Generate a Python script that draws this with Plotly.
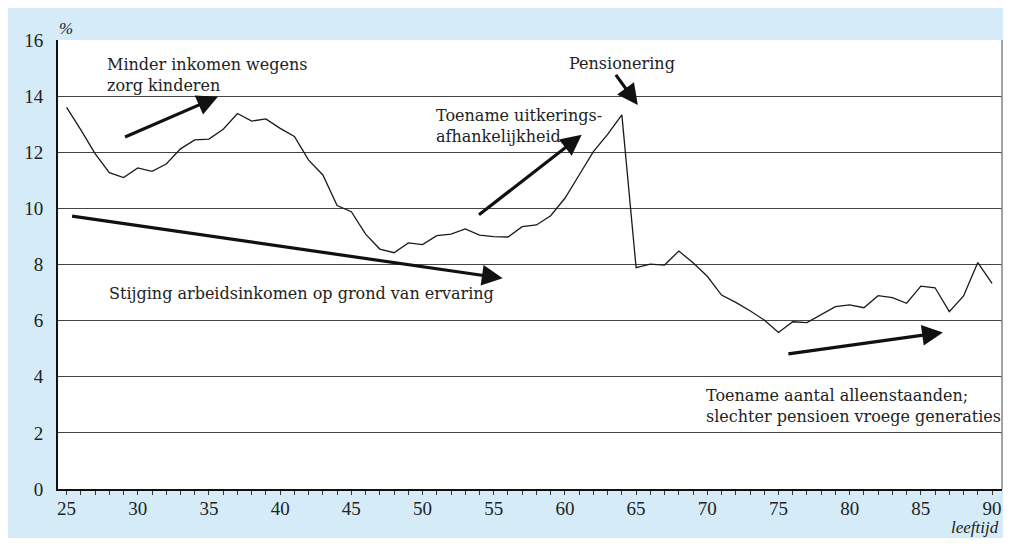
import plotly.graph_objects as go

# ---- data ----
ages = list(range(25, 91))
share = [13.60, 12.80, 11.95, 11.27, 11.10, 11.44, 11.32, 11.58, 12.12, 12.44,
         12.47, 12.82, 13.38, 13.11, 13.19, 12.85, 12.56, 11.72, 11.19, 10.10,
         9.88, 9.08, 8.55, 8.42, 8.77, 8.71, 9.03, 9.08, 9.27, 9.05,
         8.99, 8.98, 9.35, 9.41, 9.74, 10.36, 11.19, 12.02, 12.64, 13.33,
         7.89, 8.01, 7.98, 8.48, 8.06, 7.58, 6.91, 6.65, 6.35, 6.02,
         5.58, 5.96, 5.93, 6.20, 6.50, 6.56, 6.46, 6.89, 6.82, 6.62,
         7.23, 7.17, 6.32, 6.88, 8.07, 7.33]
x_ticks = list(range(25, 91, 5))
y_ticks = list(range(0, 17, 2))

notes = [
    "Minder inkomen wegens<br>zorg kinderen",
    "Stijging arbeidsinkomen op grond van ervaring",
    "Toename uitkerings-<br>afhankelijkheid",
    "Pensionering",
    "Toename aantal alleenstaanden;<br>slechter pensioen vroege generaties",
]

BLUE = "#D5ECF8"
FONT = "Liberation Serif"
NFONT = "DejaVu Serif"

fig = go.Figure()
fig.add_trace(go.Scatter(x=ages, y=share, mode="lines",
                         line=dict(color="#1a1a1a", width=1.3),
                         hoverinfo="skip", showlegend=False))

W, H = 995, 530
OFF = 8  # page body margin
L, R, T, B = 50, 1, 32, 49
pw, ph = W - L - R, H - T - B

def px(p):  # page pixel -> paper x
    return (p - OFF - L) / pw

def py(p):  # page pixel -> paper y
    return (H - B - (p - OFF)) / ph

# text annotations (data coords)
text_pos = [(27.7, 14.75), (27.85, 6.95), (50.8, 12.92), (60.15, 15.17), (69.75, 2.96)]
for t, (xx, yy) in zip(notes, text_pos):
    fig.add_annotation(x=xx, y=yy, xref="x", yref="y", text=t, showarrow=False,
                       xanchor="left", yanchor="middle", align="left",
                       font=dict(family=NFONT, size=16, color="#222"))

# arrows (tail -> head) in data coords
arrows = [((29.0, 12.52), (35.63, 13.98)),
          ((25.28, 9.73), (55.63, 7.51)),
          ((53.86, 9.73), (61.18, 12.62)),
          ((63.5, 14.81), (65.12, 13.68)),
          ((75.59, 4.81), (86.55, 5.58))]
for (tx, ty), (hx, hy) in arrows:
    fig.add_annotation(x=hx, y=hy, ax=tx, ay=ty, xref="x", yref="y",
                       axref="x", ayref="y", text="", showarrow=True,
                       arrowhead=2, arrowsize=1.3, arrowwidth=3.2,
                       arrowcolor="#111", standoff=0, startstandoff=0)

# axis titles
fig.add_annotation(x=px(57), y=py(28), xref="paper", yref="paper", text="<i>%</i>",
                   showarrow=False, xanchor="left", yanchor="middle",
                   font=dict(family=FONT, size=17, color="#222"))
fig.add_annotation(x=px(1001), y=py(527), xref="paper", yref="paper", text="<i>leeftijd</i>",
                   showarrow=False, xanchor="right", yanchor="middle",
                   font=dict(family=FONT, size=17, color="#222"))

# right border of plot
fig.add_shape(type="line", xref="paper", yref="paper", x0=1, x1=1, y0=0, y1=1,
              line=dict(color="#888", width=1.5))

fig.update_layout(
    width=W, height=H,
    margin=dict(l=L, r=R, t=T, b=B),
    paper_bgcolor=BLUE, plot_bgcolor="white",
    font=dict(family=FONT, size=19, color="#222"),
    showlegend=False,
    xaxis=dict(range=[24.396, 90.70], tickvals=x_ticks, ticks="outside",
               ticklen=4, tickwidth=1, tickcolor="#333",
               minor=dict(dtick=1, tick0=25, ticks="outside", ticklen=4, tickcolor="#333"),
               showgrid=False, zeroline=False, showline=True, linecolor="#111",
               linewidth=2, ticklabelstandoff=-3, automargin=False,
               ticklabeloverflow="allow",
               tickfont=dict(family=FONT, size=19)),
    yaxis=dict(range=[0, 16], tickvals=y_ticks, ticks="", showgrid=True,
               gridcolor="#444", gridwidth=1, zeroline=False, showline=True,
               linecolor="#111", linewidth=2, ticklabelstandoff=9, automargin=False,
               tickfont=dict(family=FONT, size=19)),
)

fig.write_html("out.html")
